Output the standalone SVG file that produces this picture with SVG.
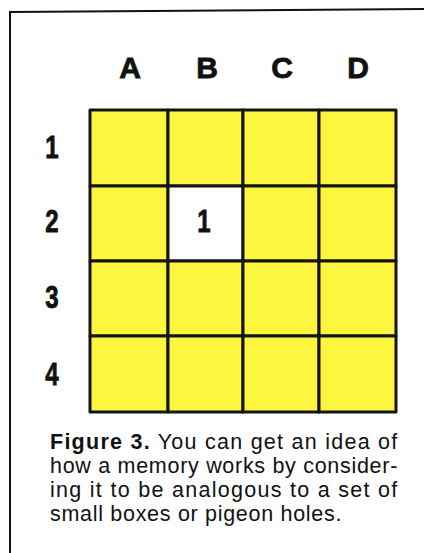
<svg xmlns="http://www.w3.org/2000/svg" width="424" height="553" viewBox="0 0 424 553">
<style>
.cell{fill:#fdf63f;stroke:#141414;stroke-width:3;stroke-linejoin:round}
.empty{fill:#ffffff}
.col{font-family:"Liberation Sans",Arial,sans-serif;font-weight:bold;font-size:30px;fill:#111;stroke:#111;stroke-width:0.8;text-anchor:middle}
.row{font-family:"Liberation Sans",Arial,sans-serif;font-weight:bold;font-size:32px;fill:#111;stroke:#111;stroke-width:0.8;text-anchor:middle}
.cap{font-family:"Liberation Sans",Arial,sans-serif;font-size:21.5px;letter-spacing:0.7px;fill:#111}
.frame{fill:none;stroke:#111;stroke-width:2}
</style>
<rect width="424" height="553" fill="#ffffff"/>
<g id="frame">
<path class="frame" d="M10,553 L10,12 L424,9"/>
</g>
<g id="column-labels">
<text class="col" x="130" y="78">A</text>
<text class="col" x="207" y="78">B</text>
<text class="col" x="282" y="78">C</text>
<text class="col" x="358" y="78">D</text>
</g>
<g id="row-labels">
<text class="row" transform="translate(52,158) scale(0.75,1)">1</text>
<text class="row" transform="translate(52,232) scale(0.75,1)">2</text>
<text class="row" transform="translate(52,308) scale(0.75,1)">3</text>
<text class="row" transform="translate(52,385) scale(0.75,1)">4</text>
</g>
<g id="grid">
<g id="A1"><rect class="cell" x="90" y="110" width="78" height="76"/></g>
<g id="B1"><rect class="cell" x="168" y="110" width="75" height="76"/></g>
<g id="C1"><rect class="cell" x="243" y="110" width="76" height="76"/></g>
<g id="D1"><rect class="cell" x="319" y="110" width="77" height="76"/></g>
<g id="A2"><rect class="cell" x="90" y="186" width="78" height="75"/></g>
<g id="B2"><rect class="cell empty" x="168" y="186" width="75" height="75"/>
<text class="row" transform="translate(204,232) scale(0.75,1)">1</text></g>
<g id="C2"><rect class="cell" x="243" y="186" width="76" height="75"/></g>
<g id="D2"><rect class="cell" x="319" y="186" width="77" height="75"/></g>
<g id="A3"><rect class="cell" x="90" y="261" width="78" height="75"/></g>
<g id="B3"><rect class="cell" x="168" y="261" width="75" height="75"/></g>
<g id="C3"><rect class="cell" x="243" y="261" width="76" height="75"/></g>
<g id="D3"><rect class="cell" x="319" y="261" width="77" height="75"/></g>
<g id="A4"><rect class="cell" x="90" y="336" width="78" height="76"/></g>
<g id="B4"><rect class="cell" x="168" y="336" width="75" height="76"/></g>
<g id="C4"><rect class="cell" x="243" y="336" width="76" height="76"/></g>
<g id="D4"><rect class="cell" x="319" y="336" width="77" height="76"/></g>
</g>
<g id="connectors"></g>
<g id="caption">
<text class="cap" x="50" y="449" textLength="348" lengthAdjust="spacing"><tspan font-weight="bold">Figure 3.</tspan> You can get an idea of</text>
<text class="cap" x="50" y="473" textLength="348" lengthAdjust="spacing">how a memory works by consider-</text>
<text class="cap" x="50" y="497" textLength="348" lengthAdjust="spacing">ing it to be analogous to a set of</text>
<text class="cap" x="50" y="521">small boxes or pigeon holes.</text>
</g>
</svg>
